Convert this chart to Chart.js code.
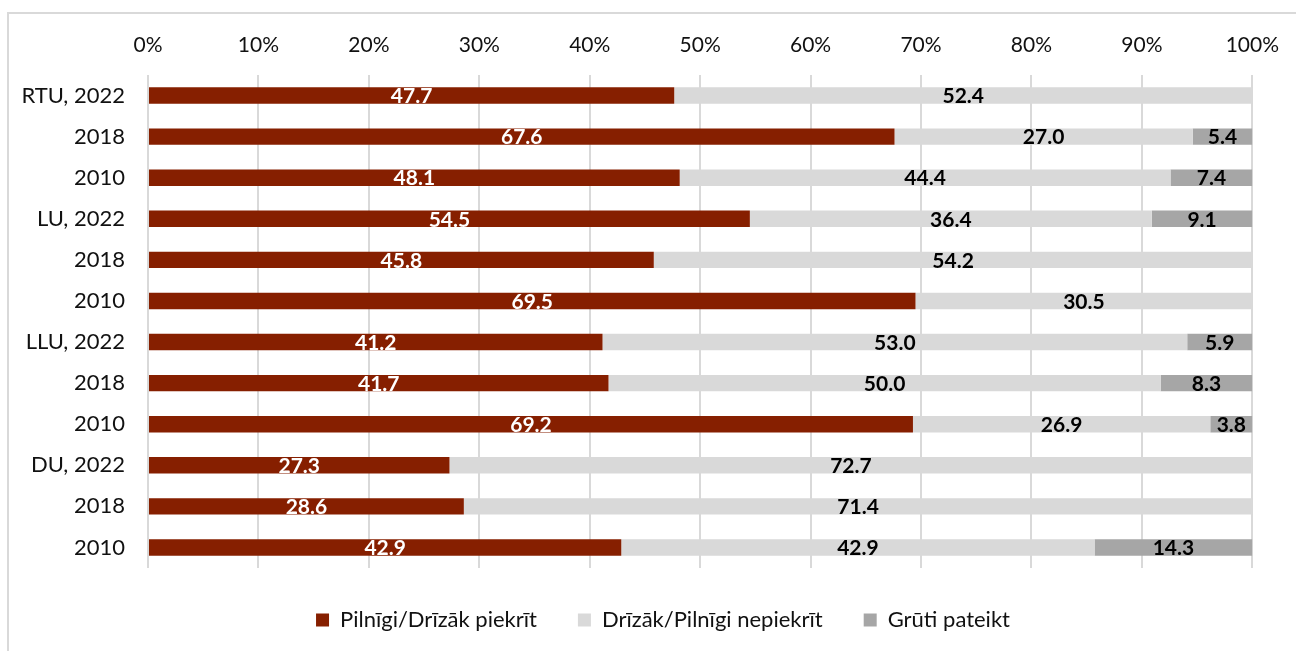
<!DOCTYPE html>
<html>
<head>
<meta charset="utf-8">
<script src="https://cdn.jsdelivr.net/npm/chart.js@4/dist/chart.umd.min.js"></script>
<style>
    html, body { margin: 0; padding: 0; background: #fff; }
    #wrap { position: relative; width: 1296px; height: 651px; }
    #frame { position: absolute; left: 7px; top: 12px; width: 1400px; height: 700px; border: 2px solid #d9d9d9; box-sizing: border-box; }
    #chart { position: absolute; left: 0; top: 0; }
</style>
</head>
<body>
<div id="wrap">
    <div id="frame"></div>
    <canvas id="chart" width="1296" height="651"></canvas>
</div>
<script>
const categories = ['RTU, 2022', '2018', '2010', 'LU, 2022', '2018', '2010', 'LLU, 2022', '2018', '2010', 'DU, 2022', '2018', '2010'];
const agree = [47.7, 67.6, 48.1, 54.5, 45.8, 69.5, 41.2, 41.7, 69.2, 27.3, 28.6, 42.9];
const disagree = [52.4, 27.0, 44.4, 36.4, 54.2, 30.5, 53.0, 50.0, 26.9, 72.7, 71.4, 42.9];
const hardToSay = [null, 5.4, 7.4, 9.1, null, null, 5.9, 8.3, 3.8, null, null, 14.3];
const seriesNames = ['Pilnīgi/Drīzāk piekrīt', 'Drīzāk/Pilnīgi nepiekrīt', 'Grūti pateikt'];
const tickLabels = ['0%', '10%', '20%', '30%', '40%', '50%', '60%', '70%', '80%', '90%', '100%'];

const FONT = 'Lato, "Open Sans", sans-serif';

// 100% stacked: each row is scaled to its own total
const totals = categories.map((c, i) => agree[i] + disagree[i] + (hardToSay[i] || 0));
const share = arr => arr.map((v, i) => v == null ? null : v / totals[i] * 100);

const valueLabels = {
    id: 'valueLabels',
    afterLayout(chart) {
        // legend sits a little right of centre in the original
        chart.legend.left += 36;
        chart.legend.right += 36;
    },
    afterDatasetsDraw(chart) {
        const ctx = chart.ctx;
        ctx.save();
        ctx.font = 'bold 21px ' + FONT;
        ctx.textAlign = 'center';
        ctx.textBaseline = 'middle';
        chart.data.datasets.forEach((ds, di) => {
            const meta = chart.getDatasetMeta(di);
            meta.data.forEach((bar, i) => {
                const raw = ds.raw[i];
                if (raw == null) return;
                ctx.fillStyle = di === 0 ? '#ffffff' : '#000000';
                ctx.fillText(raw.toFixed(1), (bar.x + bar.base) / 2, bar.y + 1);
            });
        });
        ctx.restore();
    }
};

new Chart(document.getElementById('chart'), {
    type: 'bar',
    data: {
        labels: categories,
        datasets: [
            { label: seriesNames[0], data: share(agree), raw: agree, backgroundColor: '#861f00' },
            { label: seriesNames[1], data: share(disagree), raw: disagree, backgroundColor: '#d9d9d9' },
            { label: seriesNames[2], data: share(hardToSay), raw: hardToSay, backgroundColor: '#a6a6a6' }
        ]
    },
    options: {
        indexAxis: 'y',
        responsive: false,
        animation: false,
        categoryPercentage: 1,
        barPercentage: 0.4,
        layout: { padding: { left: 0, right: 42, top: 0, bottom: 10 } },
        scales: {
            x: {
                position: 'top',
                stacked: true,
                min: 0,
                max: 100,
                afterFit(scale) { scale.height = 75; },
                afterBuildTicks(scale) {
                    scale.ticks = tickLabels.map((t, i) => ({ value: i * 10 }));
                },
                ticks: {
                    padding: 17,
                    color: '#111',
                    font: { family: FONT, size: 21 },
                    callback: (v, i) => tickLabels[i]
                },
                grid: { color: '#d9d9d9', lineWidth: 2, drawTicks: false },
                border: { display: false }
            },
            y: {
                stacked: true,
                afterFit(scale) { scale.width = 148; },
                ticks: {
                    padding: 23,
                    color: '#111',
                    font: { family: FONT, size: 22 }
                },
                grid: { display: false, drawTicks: false },
                border: { display: false }
            }
        },
        plugins: {
            legend: {
                position: 'bottom',
                labels: {
                    boxWidth: 13,
                    boxHeight: 13,
                    padding: 41,
                    color: '#111',
                    font: { family: FONT, size: 22 }
                }
            },
            tooltip: { enabled: false }
        }
    },
    plugins: [valueLabels]
});
</script>
</body>
</html>
